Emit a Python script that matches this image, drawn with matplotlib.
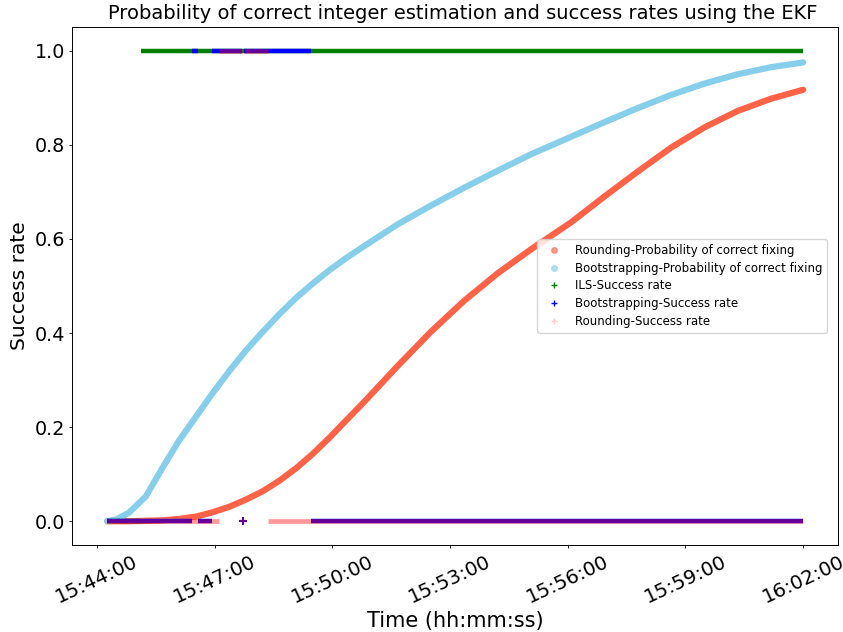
import numpy as np
import pandas as pd
import matplotlib
matplotlib.use("Agg")
import matplotlib.pyplot as plt
import matplotlib.dates as mdates
from matplotlib.lines import Line2D

day = "2021-01-01 "

# probability of correct fixing
prob_times = ["15:44:16", "15:44:30", "15:44:49", "15:45:15", "15:45:41", "15:46:06",
              "15:46:32", "15:46:57", "15:47:23", "15:47:48", "15:48:14", "15:48:39",
              "15:49:05", "15:49:30", "15:49:56", "15:50:21", "15:50:49", "15:51:40",
              "15:52:31", "15:53:22", "15:54:13", "15:55:04", "15:56:05", "15:56:56",
              "15:57:47", "15:58:38", "15:59:29", "16:00:20", "16:01:11", "16:02:00"]
boot_prob = [0.0, 0.004, 0.018, 0.053, 0.115, 0.172, 0.223, 0.272, 0.320, 0.363,
             0.403, 0.440, 0.475, 0.505, 0.534, 0.559, 0.585, 0.631, 0.671, 0.709,
             0.745, 0.780, 0.817, 0.848, 0.878, 0.906, 0.930, 0.950, 0.965, 0.975]
round_prob = [0.0, 0.0, 0.0, 0.001, 0.002, 0.005, 0.010, 0.019, 0.031, 0.046,
              0.064, 0.086, 0.113, 0.143, 0.178, 0.214, 0.254, 0.330, 0.403, 0.469,
              0.527, 0.578, 0.635, 0.690, 0.743, 0.794, 0.837, 0.872, 0.898, 0.917]

# success rates: (start, end, value) runs
ils_runs = [("15:44:16", "15:45:07", 0), ("15:45:07", "16:02:00", 1)]
boot_runs = [("15:44:16", "15:46:26", 0), ("15:46:26", "15:46:35", 1),
             ("15:46:35", "15:46:56", 0), ("15:46:56", "15:47:42", 1),
             ("15:47:45", "15:49:28", 1), ("15:49:28", "16:02:00", 0)]
round_runs = [("15:44:16", "15:47:07", 0), ("15:47:07", "15:47:42", 1),
              ("15:47:45", "15:48:21", 1), ("15:48:21", "16:02:00", 0)]
blip_time = ["15:47:43"]
blip_value = [0]


def ts(lst):
    return pd.to_datetime([day + t for t in lst])


fig = plt.figure(figsize=(8.43, 6.32), dpi=100)
ax = fig.add_axes([0.086, 0.138, 0.908, 0.819])

ax.plot(ts(prob_times), round_prob, color="tomato", lw=4.5, solid_capstyle="round")
ax.plot(ts(prob_times), boot_prob, color="skyblue", lw=4.5, solid_capstyle="round")

def draw_runs(runs, color, alpha, lw):
    for s, e, v in runs:
        ax.plot(ts([s, e]), [v, v], color=color, alpha=alpha, lw=lw,
                solid_capstyle="butt")

draw_runs(ils_runs, "green", 1.0, 3.2)
draw_runs(boot_runs, "blue", 1.0, 3.2)
ax.plot(ts(blip_time), blip_value, "+", color="blue", ms=6, mew=1.5)
draw_runs(round_runs, "red", 0.4, 3.4)
ax.plot(ts(blip_time), blip_value, "+", color="red", alpha=0.4, ms=6, mew=1.5)

ax.xaxis.set_major_locator(mdates.MinuteLocator(byminute=range(2, 60, 3)))
ax.xaxis.set_major_formatter(mdates.DateFormatter("%H:%M:%S"))
plt.setp(ax.get_xticklabels(), rotation=25, ha="center")
ax.tick_params(length=2.2, width=0.6)
ax.tick_params(axis="x", labelsize=14.2, pad=3)
ax.tick_params(axis="y", labelsize=13.8, pad=3.2)
for sp in ax.spines.values():
    sp.set_linewidth(0.7)

ax.set_xlabel("Time (hh:mm:ss)", fontsize=15, labelpad=3)
ax.set_ylabel("Success rate", fontsize=14.5, labelpad=4)
ax.set_title("Probability of correct integer estimation and success rates using the EKF",
             fontsize=14, x=0.51)

handles = [
    Line2D([], [], marker="o", ls="", color="tomato", alpha=0.6, ms=4),
    Line2D([], [], marker="o", ls="", color="skyblue", alpha=0.6, ms=4),
    Line2D([], [], marker="+", ls="", color="green", ms=4),
    Line2D([], [], marker="+", ls="", color="blue", ms=4),
    Line2D([], [], marker="+", ls="", color="red", alpha=0.2, ms=4),
]
labels = ["Rounding-Probability of correct fixing",
          "Bootstrapping-Probability of correct fixing",
          "ILS-Success rate", "Bootstrapping-Success rate", "Rounding-Success rate"]
ax.legend(handles, labels, loc="center right", fontsize=8.5, borderaxespad=0.9,
          labelspacing=0.4)

fig.savefig("out.png", dpi=100)
